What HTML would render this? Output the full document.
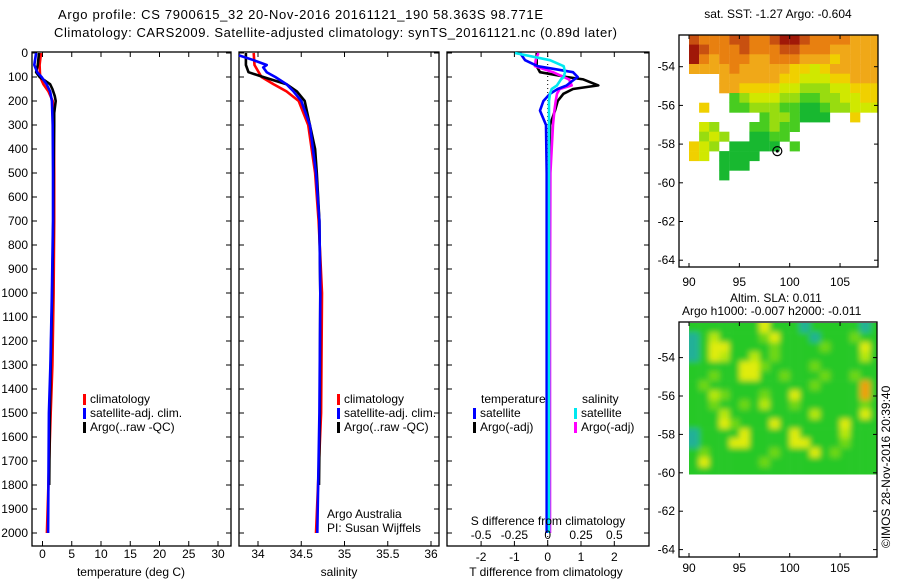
<!DOCTYPE html>
<html><head><meta charset="utf-8"><style>
html,body{margin:0;padding:0;background:#fff;width:900px;height:580px;overflow:hidden}
svg text{font-family:"Liberation Sans",sans-serif;font-size:12px;fill:#000}
</style></head><body>
<svg id="fig" width="900" height="580" viewBox="0 0 900 580" xmlns="http://www.w3.org/2000/svg">
<defs>
<filter id="blur" x="-5%" y="-5%" width="110%" height="110%"><feGaussianBlur stdDeviation="3"/></filter>
<clipPath id="slaClip"><rect x="689" y="323" width="188" height="151.5"/></clipPath>
</defs>
<text x="58" y="19" style="font-size:13px" textLength="485">Argo profile: CS 7900615_32 20-Nov-2016 20161121_190 58.363S 98.771E</text>
<text x="54" y="37" style="font-size:13px" textLength="563">Climatology: CARS2009. Satellite-adjusted climatology: synTS_20161121.nc (0.89d later)</text>
<g id="g"></g>
</svg>
<script>
// ---- profile data ----
const tDepth = [0,50,80,100,130,160,200,300,500,700,1000,1300,1500,1800,2000];
const tClim  = [-0.25,-0.5,-0.45,-0.4,0.15,1.0,1.75,1.95,2.0,2.0,1.9,1.7,1.4,1.0,0.75];
const tSat   = [-1.1,-1.4,-0.9,-0.15,0.7,1.3,1.6,1.75,1.8,1.8,1.6,1.35,1.1,1.0,0.95];
const tArgoDepth = [0,50,80,100,130,150,180,200,250,300,500,700,1000,1300,1500,1800];
const tArgo  = [-0.6,-0.8,-1.1,-0.5,1.3,1.7,2.1,2.25,2.0,2.0,1.9,1.85,1.65,1.4,1.25,1.15];
const sDepth = [0,50,100,130,160,200,300,500,700,1000,1500,2000];
const sClim  = [33.95,33.96,34.04,34.18,34.33,34.47,34.58,34.66,34.70,34.74,34.73,34.67];
const sSatDepth = [10,30,50,60,80,100,130,160,200,300,500,700,1000,1500,2000];
const sSat   = [33.78,33.95,34.1,34.06,34.1,34.2,34.33,34.41,34.5,34.6,34.67,34.71,34.72,34.71,34.685];
const sArgoDepth = [0,50,80,100,130,160,200,300,400,500,700,1000,1500,1800];
const sArgo  = [33.86,33.86,33.89,34.06,34.33,34.45,34.54,34.6,34.66,34.68,34.71,34.72,34.715,34.705];
const dDepth = [0,30,55,80,100,110,135,150,170,200,240,300,500,1000,1500,2000];
const dTSat  = [-0.83,-0.68,-0.3,0.76,0.9,0.8,0.57,0.3,0.07,-0.13,-0.23,-0.05,-0.03,-0.03,-0.03,-0.03];
const dTArgo = [-0.33,-0.33,-0.33,-0.23,0.57,1.07,1.52,0.76,0.47,0.3,0.22,0.07,0.05,0.05,0.05,0.05];
const dSSat  = [-0.245,0.017,0.12,0.13,0.12,0.1,0.07,0.03,0.017,0.01,0.01,0.01,0.01,0.01,0.01,0.01];
const dSArgo = [-0.07,-0.09,-0.095,0.04,0.12,0.16,0.18,0.09,0.07,0.06,0.05,0.04,0.02,0.017,0.017,0.017];
const depthTicks = [0,100,200,300,400,500,600,700,800,900,1000,1100,1200,1300,1400,1500,1600,1700,1800,1900,2000];
const tTicks = [0,5,10,15,20,25,30];
const sTicks = [34,34.5,35,35.5,36];
const sTickLabels = ["34","34.5","35","35.5","36"];
const dTTicks = [-2,-1,0,1,2];
const dSTicks = [-0.5,-0.25,0,0.25,0.5];
const dSTickLabels = ["-0.5","-0.25","0","0.25","0.5"];
// ---- map data ----
const sstLonTicks = [90,95,100,105];
const latTicks = [-54,-56,-58,-60,-62,-64];
const sstRows = [
"8777887789987777666",
"9877787778877766666",
"9767776677766656666",
"6666766666554566666",
"...6666665544455666",
"...6655554433344555",
"....234443322334455",
".5..223332211233444",
".......2332111..5..",
".43...22322........",
".343..1122.........",
"543.11111.2........",
"54.1111............",
"...111.............",
"...1..............."];
const sstColors = {"1":"#18b830","2":"#48cc20","3":"#98dc10","4":"#d0e800","5":"#f0d000","6":"#f0a818","7":"#e88010","8":"#c85010","9":"#a01808"};
const slaRows = [
"gggggggYgggtgggggtg",
"tgygggglYgggtggglgg",
"tgYYgggglgggglgggYg",
"tgYyggyglggggggggyg",
"gggggYYlgggglgggggg",
"gglggYYgglggglgglgg",
"glgggggggggglggggog",
"ggylggglggYggggggog",
"gglgglgygglgggggglg",
"gggyggggggggyggggYg",
"gggYlgggYggggggYggg",
"tggggYggggYggggyggg",
"tgggYYggggYYggglggg",
"glgggggglgggYglgggg",
"gYggggglggggggggggg",
"ggggggggggggggggggg"];
const slaColors = {g:"#28c828",l:"#70d818",y:"#b8e810",Y:"#e0ec10",t:"#20b098",o:"#f0a010"};
const argoLon = 98.771, argoLat = -58.363;

const NS="http://www.w3.org/2000/svg", G=document.getElementById('g');
function el(tag, attrs, parent){const e=document.createElementNS(NS,tag);for(const k in attrs)e.setAttribute(k,attrs[k]);(parent||G).appendChild(e);return e;}
function txt(s,x,y,anchor,parent){const t=el('text',{x:x,y:y,'text-anchor':anchor||'start'},parent);t.textContent=s;return t;}

const yD = d => 53 + 0.24*d;
function panel(name,x0,x1,y0,y1){
  const g=el('g',{});
  
  
  const r=el('rect',{x:x0,y:y0,width:x1-x0,height:y1-y0,fill:'none',stroke:'#000','stroke-width':1.3},g);
  
  
  return g;
}
function line(g,name,xs,ds,xf,color,w){
  let p='';for(let i=0;i<xs.length;i++)p+=(i?'L':'M')+xf(xs[i]).toFixed(1)+' '+yD(ds[i]).toFixed(1);
  const e=el('path',{d:p,fill:'none',stroke:color,'stroke-width':w||2.6,'stroke-linejoin':'round'},g);
  
  
}
function depthAxis(g,x0,x1,labels){
  depthTicks.forEach(d=>{const y=yD(d);
    el('line',{x1:x0,y1:y,x2:x0+5,y2:y,stroke:'#000'},g);el('line',{x1:x1,y1:y,x2:x1-5,y2:y,stroke:'#000'},g);
    if(labels){const t=txt(String(d),28,y+4,'end',g);
      
      }
  });
}
function xAxis(g,ticks,labels,xf,y0,y1,ly){
  ticks.forEach((v,i)=>{const x=xf(v);
    el('line',{x1:x,y1:y0,x2:x,y2:y0+5,stroke:'#000'},g);el('line',{x1:x,y1:y1,x2:x,y2:y1-5,stroke:'#000'},g);
    const t=txt(labels[i],x,ly,'middle',g);
    
    
  });
}
function legendEntry(g,name,x,y,color,label){
  el('rect',{x:x,y:y-9,width:3,height:11,fill:color},g);
  const t=txt(label,x+7,y,'start',g);
  
  
}
const Y0=52,Y1=546;
const xT = t => 42.5 + 5.85*t;
const p1=panel('temperature-panel',32,231,Y0,Y1);
depthAxis(p1,32,231,true);
xAxis(p1,tTicks,tTicks.map(String),xT,Y0,Y1,558);
line(p1,'temp-climatology-line',tClim,tDepth,xT,'#ff0000');
line(p1,'temp-argo-line',tArgo,tArgoDepth,xT,'#000000');
line(p1,'temp-satellite-line',tSat,tDepth,xT,'#0000ff');
legendEntry(p1,'legend-climatology',83,403,'#ff0000','climatology');
legendEntry(p1,'legend-satellite-adj',83,417,'#0000ff','satellite-adj. clim.');
legendEntry(p1,'legend-argo',83,431,'#000000','Argo(..raw -QC)');
let t=txt('temperature (deg C)',131,576,'middle',p1);


const xS = s => 258 + 86.5*(s-34);
const p2=panel('salinity-panel',239,439,Y0,Y1);
depthAxis(p2,239,439,false);
xAxis(p2,sTicks,sTickLabels,xS,Y0,Y1,558);
line(p2,'sal-climatology-line',sClim,sDepth,xS,'#ff0000');
line(p2,'sal-argo-line',sArgo,sArgoDepth,xS,'#000000');
line(p2,'sal-satellite-line',sSat,sSatDepth,xS,'#0000ff');
legendEntry(p2,'legend-climatology-2',337,403,'#ff0000','climatology');
legendEntry(p2,'legend-satellite-adj-2',337,417,'#0000ff','satellite-adj. clim.');
legendEntry(p2,'legend-argo-2',337,431,'#000000','Argo(..raw -QC)');
t=txt('Argo Australia',327,518,'start',p2);


t=txt('PI: Susan Wijffels',327,532,'start',p2);


t=txt('salinity',339,576,'middle',p2);


const xDT = v => 547.7 + 33.3*v, xDS = v => 547.7 + 133.3*v;
const p3=panel('difference-panel',447,649,Y0,Y1);
depthAxis(p3,447,649,false);
xAxis(p3,dTTicks,dTTicks.map(String),xDT,Y0,Y1,561);
el('line',{x1:xDT(0),y1:Y0,x2:xDT(0),y2:Y1,stroke:'#000','stroke-dasharray':'1 3'},p3);
line(p3,'dT-argo-line',dTArgo,dDepth,xDT,'#000000');
line(p3,'dS-argo-line',dSArgo,dDepth,xDS,'#ff00ff');
line(p3,'dT-satellite-line',dTSat,dDepth,xDT,'#0000ff');
line(p3,'dS-satellite-line',dSSat,dDepth,xDS,'#00e8f0');
dSTicks.forEach((v,i)=>{const tt=txt(dSTickLabels[i],xDS(v),539,'middle',p3);
  
  });
t=txt('S difference from climatology',548,525,'middle',p3);


t=txt('T difference from climatology',546,576,'middle',p3);


t=txt('temperature',481,403,'start',p3);


t=txt('salinity',582,403,'start',p3);


legendEntry(p3,'legend-t-satellite',473,417,'#0000ff','satellite');
legendEntry(p3,'legend-t-argo',473,431,'#000000','Argo(-adj)');
legendEntry(p3,'legend-s-satellite',574,417,'#00e8f0','satellite');
legendEntry(p3,'legend-s-argo',574,431,'#ff00ff','Argo(-adj)');

const lonX = lon => 689 + 10.07*(lon-90);
function mapAxes(g,x0,x1,y0,y1,latY,lx){
  el('rect',{x:x0,y:y0,width:x1-x0,height:y1-y0,fill:'none',stroke:'#000','stroke-width':1.3},g);
  sstLonTicks.forEach(l=>{const x=lonX(l);
    el('line',{x1:x,y1:y0,x2:x,y2:y0+4,stroke:'#000'},g);el('line',{x1:x,y1:y1,x2:x,y2:y1-4,stroke:'#000'},g);
    const tt=txt(String(l),x,lx,'middle',g);
    
    });
  latTicks.forEach(l=>{const y=latY(l);if(y<y0)return;
    el('line',{x1:x0,y1:y,x2:x0+4,y2:y,stroke:'#000'},g);el('line',{x1:x1,y1:y,x2:x1-4,y2:y,stroke:'#000'},g);
    const tt=txt(String(l),x0-4,y+4,'end',g);
    
    });
}
const latY1 = lat => 66.7 + 19.35*(-54-lat);
const m1=el('g',{});


sstRows.forEach((row,i)=>{const la=-52.36-0.5*i;
  for(let j=0;j<row.length;j++){const c=row[j];if(c==='.')continue;
    const x=lonX(90+j),y=latY1(la);
    const r=el('rect',{x:x.toFixed(1),y:y.toFixed(1),width:Math.min(10.2,878-x).toFixed(1),height:(19.35*0.5+0.3).toFixed(1),fill:sstColors[c]},m1);
    
    }
});
el('circle',{cx:lonX(argoLon),cy:latY1(argoLat),r:4.5,fill:'none',stroke:'#000','stroke-width':1.2},m1);
el('circle',{cx:lonX(argoLon),cy:latY1(argoLat),r:1.5,fill:'#000'},m1);
mapAxes(m1,679,878,35,267,latY1,286);
t=txt('sat. SST: -1.27  Argo: -0.604',778,18,'middle',m1);


const latY2 = lat => 396 + 19.2*(-56-lat);
const m2=el('g',{});


const m2c=el('g',{'clip-path':'url(#slaClip)'},m2);
const m2b=el('g',{filter:'url(#blur)'},m2c);
slaRows.forEach((row,i)=>{const la=-52.2-0.5*i;
  for(let j=0;j<row.length;j++){const x=lonX(90+j),y=latY2(la);
    const r=el('rect',{x:(x-(j===0?6:0)).toFixed(1),y:(y-(i===0?8:0)).toFixed(1),width:(10.2+(j===0?6:0)+(j===row.length-1?10:0)).toFixed(1),height:(19.2*0.5+0.3+(i===0?8:0)+(i===slaRows.length-1?8:0)).toFixed(1),fill:slaColors[row[j]]},m2b);
    
    }
});
mapAxes(m2,679,877,322,557,latY2,572);
t=txt('Altim. SLA: 0.011',730,302,'start',m2);


t=txt('Argo h1000: -0.007 h2000: -0.011',682,315,'start',m2);


t=txt('\u00A9IMOS 28-Nov-2016 20:39:40',0,0,'start',G);
t.setAttribute('transform','translate(890,548) rotate(-90)');


</script>
</body></html>
